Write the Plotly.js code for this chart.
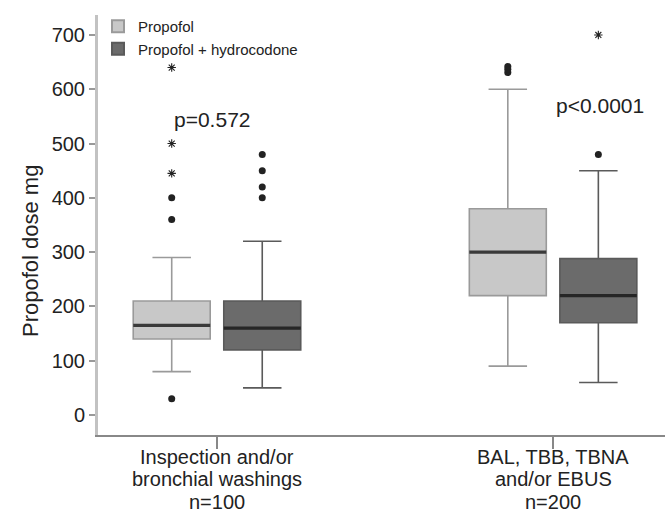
<!DOCTYPE html>
<html>
<head>
<meta charset="utf-8">
<script src="https://cdn.plot.ly/plotly-3.0.1.min.js"></script>
<style>html,body{margin:0;padding:0;background:#fff}#chart{width:669px;height:514px}</style>
</head>
<body>
<div id="chart"></div>
<script>
// ---- data ----
var categoryLines = [
  ['Inspection and/or', 'bronchial washings', 'n=100'],
  ['BAL, TBB, TBNA', 'and/or EBUS', 'n=200']
];
var seriesNames = ['Propofol', 'Propofol + hydrocodone'];
var yTitle = 'Propofol dose mg';

var propofolQ1 = [140, 220];
var propofolMedian = [165, 300];
var propofolQ3 = [210, 380];
var propofolLower = [80, 90];
var propofolUpper = [290, 600];
var propofolOutliers = [[30, 360, 400], [631, 637, 642]];
var propofolExtremes = [[445, 500, 640], []];

var comboQ1 = [120, 170];
var comboMedian = [160, 220];
var comboQ3 = [210, 288];
var comboLower = [50, 60];
var comboUpper = [320, 450];
var comboOutliers = [[400, 420, 450, 480], [480]];
var comboExtremes = [[], [700]];

var pValues = ['p=0.572', 'p<0.0001'];
var yTicks = [0, 100, 200, 300, 400, 500, 600, 700];

// ---- layout helpers ----
var catPos = [0, 1];
var off = 0.1347;
var boxW = 0.229;
var FONT = '"Liberation Sans", Arial, sans-serif';

function shifted(d) { return catPos.map(function (p) { return p + d; }); }
function pts(groups, d) {
  var xs = [], ys = [];
  groups.forEach(function (g, i) { g.forEach(function (v) { xs.push(catPos[i] + d); ys.push(v); }); });
  return {x: xs, y: ys};
}

var styles = [
  {fill: '#c8c8c8', line: '#9a9a9a', med: '#3a3a3a'},
  {fill: '#6b6b6b', line: '#5a5a5a', med: '#262626'}
];
var stats = [
  {q1: propofolQ1, med: propofolMedian, q3: propofolQ3, lo: propofolLower, hi: propofolUpper, out: propofolOutliers, ext: propofolExtremes, d: -off},
  {q1: comboQ1, med: comboMedian, q3: comboQ3, lo: comboLower, hi: comboUpper, out: comboOutliers, ext: comboExtremes, d: off}
];

var traces = [];
stats.forEach(function (s, k) {
  traces.push({
    type: 'box', name: seriesNames[k], x: shifted(s.d),
    q1: s.q1, median: s.med, q3: s.q3, lowerfence: s.lo, upperfence: s.hi,
    width: boxW, whiskerwidth: 0.5, boxpoints: false,
    fillcolor: styles[k].fill, line: {color: styles[k].line, width: 1.6},
    hoverinfo: 'skip'
  });
});
stats.forEach(function (s, k) {
  traces.push({
    type: 'box', showlegend: false, x: shifted(s.d),
    q1: s.med, median: s.med, q3: s.med, lowerfence: s.med, upperfence: s.med,
    width: boxW, whiskerwidth: 0, boxpoints: false,
    fillcolor: 'rgba(0,0,0,0)', line: {color: styles[k].med, width: 3.2},
    hoverinfo: 'skip'
  });
});
stats.forEach(function (s, k) {
  var o = pts(s.out, s.d);
  traces.push({type: 'scatter', mode: 'markers', showlegend: false, x: o.x, y: o.y,
    marker: {symbol: 'circle', size: 7, color: '#222'}, hoverinfo: 'skip'});
  var e = pts(s.ext, s.d);
  traces.push({type: 'scatter', mode: 'markers', showlegend: false, x: e.x, y: e.y,
    marker: {symbol: 'asterisk-open', size: 7, color: '#222', line: {color: '#222', width: 1.1}}, hoverinfo: 'skip'});
});

var annotations = [];
var lineY = [-0.0524, -0.1057, -0.1590];
categoryLines.forEach(function (lines, i) {
  lines.forEach(function (t, j) {
    annotations.push({text: t, x: catPos[i], xref: 'x', y: lineY[j], yref: 'paper',
      xanchor: 'center', yanchor: 'middle', showarrow: false, borderpad: 0,
      font: {family: FONT, size: 20, color: '#222'}});
  });
});
var pPos = [{x: -0.012, y: 545}, {x: 1.14, y: 571}];
pValues.forEach(function (t, i) {
  annotations.push({text: t, x: pPos[i].x, y: pPos[i].y, xref: 'x', yref: 'y',
    showarrow: false, xanchor: 'center', yanchor: 'middle',
    font: {family: FONT, size: 21, color: '#222'}});
});
annotations.push({text: yTitle, textangle: -90, x: -0.12, xref: 'paper', y: 302, yref: 'y',
  xanchor: 'center', yanchor: 'middle', showarrow: false,
  font: {family: FONT, size: 22, color: '#222'}});

var layout = {
  width: 669, height: 514,
  margin: {l: 98, r: 4, t: 15, b: 79},
  paper_bgcolor: '#fff', plot_bgcolor: '#fff',
  font: {family: FONT, color: '#222'},
  showlegend: true,
  legend: {x: 0.0, y: 1.012, xanchor: 'left', yanchor: 'top', bgcolor: 'rgba(0,0,0,0)',
    font: {family: FONT, size: 15, color: '#222'}, tracegroupgap: 0, itemsizing: 'constant'},
  xaxis: {range: [-0.354, 1.333], tickvals: catPos, ticktext: ['', ''], showticklabels: false,
    ticks: 'outside', ticklen: 12, tickwidth: 2, tickcolor: '#888',
    showline: true, linecolor: '#888', linewidth: 2, showgrid: false, zeroline: false, fixedrange: true},
  yaxis: {range: [-36.8, 736.8], tickvals: yTicks, ticks: 'outside', ticklen: 6, tickwidth: 2, tickcolor: '#999',
    tickfont: {family: FONT, size: 20, color: '#222'},
    showline: true, linecolor: '#c2c2c2', linewidth: 3, showgrid: false, zeroline: false},
  annotations: annotations
};

Plotly.newPlot('chart', traces, layout, {displayModeBar: false, staticPlot: true});
</script>
</body>
</html>
